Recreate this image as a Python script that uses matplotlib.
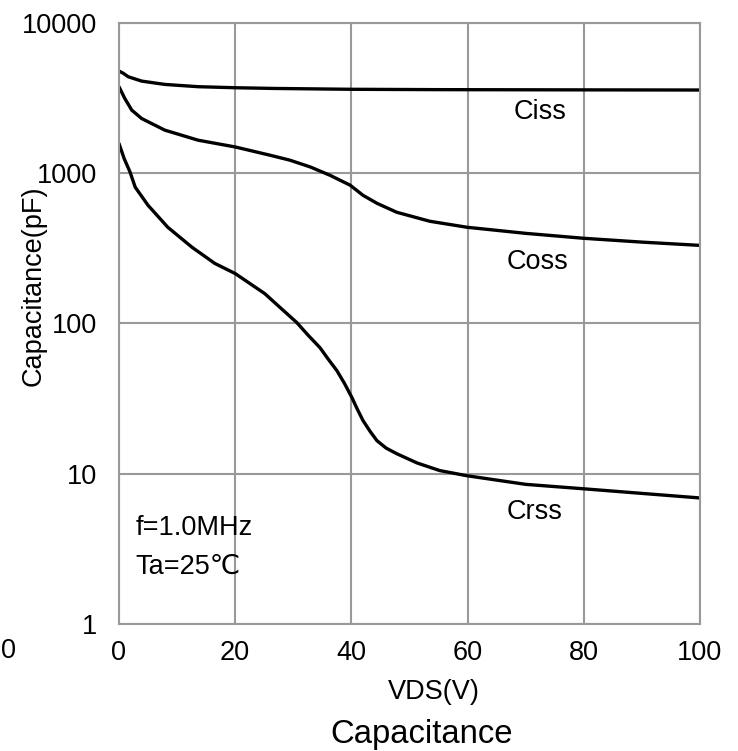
import matplotlib
matplotlib.use("Agg")
import matplotlib.pyplot as plt

plt.rcParams['font.family'] = ['Liberation Sans', 'DejaVu Sans']

# values (VDS in volts, capacitance in pF)
ciss_x = [0, 0.75, 1.6, 3.9, 7.9, 13.6, 20, 26.9, 40, 55, 75, 100]
ciss_y = [4790, 4624, 4385, 4104, 3900, 3767, 3707, 3666, 3620, 3600, 3590, 3580]

coss_x = [0, 1, 2.2, 3.9, 7.9, 13.6, 20, 26, 29.4, 32.9, 36.3, 39.8, 42, 44.4,
          47.8, 53.5, 59.9, 70, 80, 90, 100]
coss_y = [3767, 3147, 2630, 2313, 1935, 1660, 1496, 1318, 1222, 1102, 970, 832, 713, 631,
          550, 479, 437, 398, 369, 348, 331]

crss_x = [0, 0.9, 1.9, 2.8, 5, 8.4, 12.6, 16.5, 20, 25.1, 28, 30.6, 32.5, 34.6, 36,
          37.5, 38.8, 40.1, 41, 42, 43.2, 44.4, 46, 47.8, 51.3, 55.2, 59.9, 70, 80, 90, 100]
crss_y = [1578, 1250, 1020, 807, 612, 437, 321, 251, 215, 158, 125, 101.5, 84, 69, 58,
          48.6, 40, 32.1, 27, 22.6, 19.2, 16.6, 14.8, 13.6, 11.8, 10.5, 9.7, 8.5, 7.94, 7.4, 6.9]

labels = ['Ciss', 'Coss', 'Crss']
label_x = [72.5, 72.1, 71.6]
label_y = [2560, 255, 5.6]

xticks = [0, 20, 40, 60, 80, 100]
yticks = [1, 10, 100, 1000, 10000]

fs = 19.5

fig = plt.figure(figsize=(7.38, 7.51), dpi=100)
ax = fig.add_axes([0.1612, 0.1691, 0.7873, 0.8003])

for xs, ys in [(ciss_x, ciss_y), (coss_x, coss_y), (crss_x, crss_y)]:
    ax.plot(xs, ys, color='black', lw=2.4, solid_capstyle='round', solid_joinstyle='round')

ax.set_yscale('log')
ax.set_xlim(0, 100)
ax.set_ylim(1, 10000)
ax.set_xticks(xticks)
ax.set_xticklabels([str(v) for v in xticks])
ax.set_yticks(yticks)
ax.set_yticklabels([str(v) for v in yticks])
ax.minorticks_off()
ax.tick_params(axis='both', length=0, labelsize=fs)
ax.tick_params(axis='x', pad=11.5)
ax.tick_params(axis='y', pad=16)
ax.grid(True, color='#999999', lw=1.5)
for sp in ax.spines.values():
    sp.set_color('#999999')
    sp.set_linewidth(1.5)

for t, x, y in zip(labels, label_x, label_y):
    ax.text(x, y, t, ha='center', va='center', fontsize=fs)

ax.text(2.9, 4.33, 'f=1.0MHz', ha='left', va='center', fontsize=fs)
ax.text(2.9, 2.4, 'Ta=25℃', ha='left', va='center', fontsize=fs)

ax.set_xlabel('VDS(V)', fontsize=fs)
ax.xaxis.set_label_coords(0.542, -0.092)
ax.set_ylabel('Capacitance(pF)', fontsize=fs)
ax.yaxis.set_label_coords(-0.124, 0.562)

fig.text(422 / 738, 1 - 735 / 751, 'Capacitance', ha='center', va='center', fontsize=23.7)
fig.text(8 / 738, 1 - 651 / 751, '0', ha='center', va='center', fontsize=fs)

fig.savefig('out.png', dpi=100)
